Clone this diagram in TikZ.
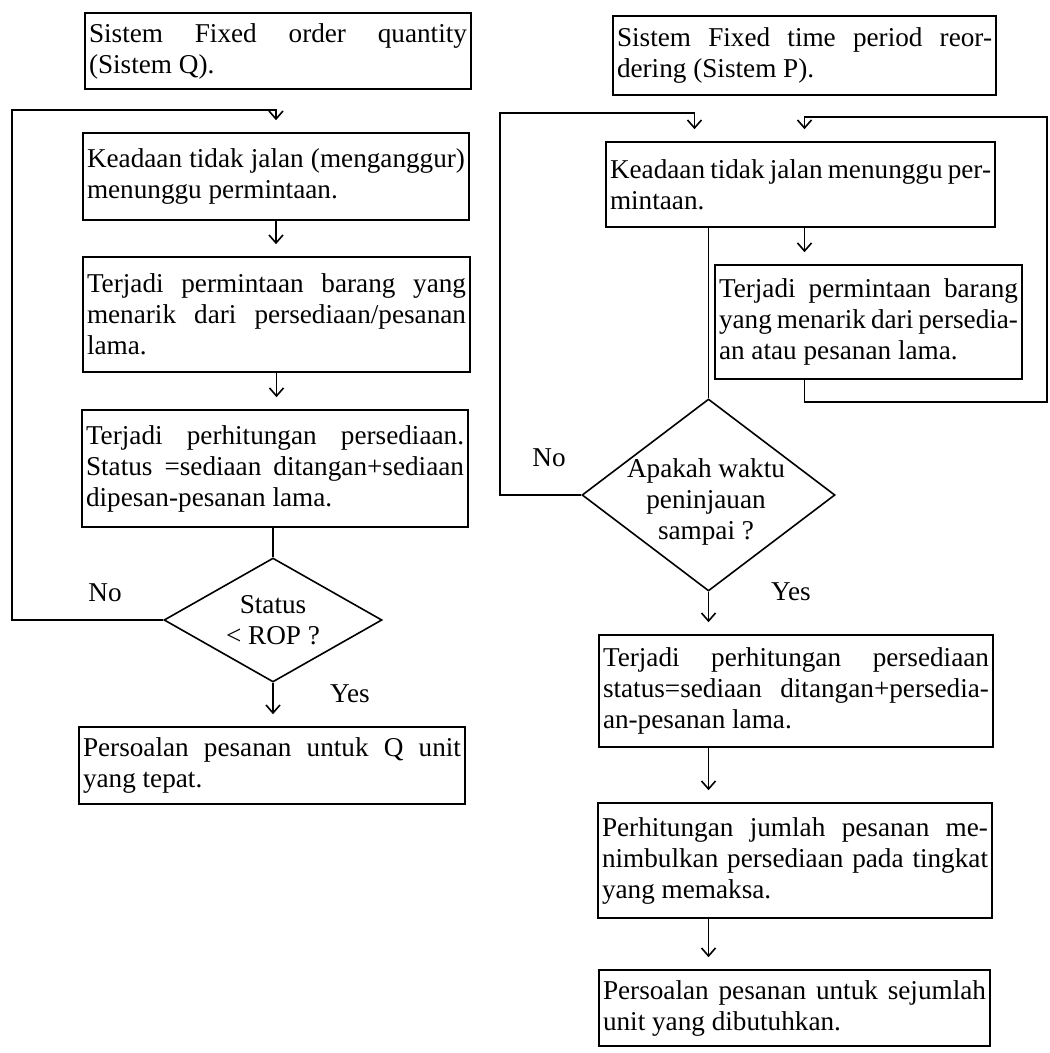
\documentclass[tikz,border=0pt]{standalone}
\usepackage{fontspec}
\setmainfont{Liberation Serif}
\usetikzlibrary{arrows.meta,positioning,calc,shapes.geometric}
\hyphenpenalty=10000
\exhyphenpenalty=10000

\begin{document}
\begin{tikzpicture}[
    x=0.5pt, y=-0.5pt,
    every node/.append style={font=\fontsize{13.6}{15.5}\selectfont},
    kotak/.style={draw, line width=0.8pt, rectangle, align=justify, inner xsep=2pt, inner ysep=0pt},
    belah/.style={draw, line width=0.8pt, diamond, inner sep=0pt, align=center},
    lbl/.style={inner sep=0pt},
    garis/.style={line width=0.8pt},
    panah/.style={garis, -{Straight Barb[length=4pt,width=7pt]}, shorten >=6pt}
]
\useasboundingbox (0,0) rectangle (1049,1053);

% Sistem Q (kiri)
\node[kotak, text width=189pt, minimum height=38pt] (judulQ) at (278,51)
    {Sistem Fixed order quantity\linebreak (Sistem Q).};
\node[kotak, text width=189pt, minimum height=43.5pt] (tunggu1) at (276,176.5)
    {Keadaan tidak jalan (menganggur)\linebreak menunggu permintaan.};
\node[kotak, text width=189.5pt, minimum height=57.5pt] (tarik1) at (276.5,314.5)
    {Terjadi permintaan barang yang\linebreak menarik dari persediaan/pesanan\linebreak lama.};
\node[kotak, text width=189pt, minimum height=58.5pt] (hitung1) at (275,468.5)
    {Terjadi perhitungan persediaan.\linebreak Status =sediaan ditangan+sediaan\linebreak dipesan-pesanan lama.};
\node[belah, minimum width=109pt, minimum height=62pt, aspect=1.76] (rop) at (273,620)
    {Status\\< ROP ?};
\node[kotak, text width=189pt, minimum height=38.5pt] (pesanQ) at (272,765.5)
    {Persoalan pesanan untuk Q unit\linebreak yang tepat.};

% Sistem P (kanan)
\node[kotak, text width=187.5pt, minimum height=39.5pt] (judulP) at (804.5,55.5)
    {Sistem Fixed time period reor-\linebreak dering (Sistem P).};
\node[kotak, text width=190.5pt, minimum height=42.5pt] (tunggu2) at (800.5,184.5)
    {Keadaan tidak jalan menunggu per-\linebreak mintaan.};
\node[kotak, text width=149.5pt, minimum height=57pt] (tarik2) at (868.5,322)
    {Terjadi permintaan barang\linebreak yang menarik dari persedia-\linebreak an atau pesanan lama.};
\node[belah, minimum width=126.5pt, minimum height=96pt] (tinjau) at (708.5,495) {};
\node[lbl, align=center] (tanya) at (706,502) {Apakah waktu\\peninjauan\\sampai ?};
\node[kotak, text width=193pt, minimum height=56pt] (hitung2) at (796,691)
    {Terjadi perhitungan persediaan\linebreak status=sediaan ditangan+persedia-\linebreak an-pesanan lama.};
\node[kotak, text width=193pt, minimum height=57.5pt] (jumlah2) at (795,860.5)
    {Perhitungan jumlah pesanan me-\linebreak nimbulkan persediaan pada tingkat\linebreak yang memaksa.};
\node[kotak, text width=191.5pt, minimum height=38pt] (pesanP) at (794.5,1008)
    {Persoalan pesanan untuk sejumlah\linebreak unit yang dibutuhkan.};

% Label
\node[lbl] (noQ) at (105,593) {No};
\node[lbl] (yesQ) at (350,694) {Yes};
\node[lbl] (noP) at (549,458) {No};
\node[lbl] (yesP) at (791,592) {Yes};

% Titik belok
\coordinate (kiriQ) at (12,110);
\coordinate (kiriP) at (500,113);
\coordinate (kananP) at (1047,117);

% Alur kiri
\draw[panah] (tunggu1.south) -- (tunggu1.south |- tarik1.north);
\draw[panah] (tarik1.south) -- (tarik1.south |- hitung1.north);
\draw[garis] (hitung1.south -| rop.north) -- (rop.north);
\draw[panah] (rop.south) -- (rop.south |- pesanQ.north);
\draw[panah] (rop.west) -| (kiriQ) -| (tunggu1.north);

% Alur kanan
\draw[garis] (tunggu2.south -| tinjau.north) -- (tinjau.north);
\draw[panah] ([xshift=2pt]tunggu2.south) -- ([xshift=2pt]tunggu2.south |- tarik2.north);
\draw[panah] ([xshift=2pt]tunggu2.south |- tarik2.south) -- ++(0,22) -| (kananP) -| ([xshift=2pt]tunggu2.north);
\draw[panah] (tinjau.west) -| (kiriP) -| ([xshift=-53pt]tunggu2.north);
\draw[panah] (tinjau.south) -- (tinjau.south |- hitung2.north);
\draw[panah] (hitung2.south -| tinjau.south) -- (jumlah2.north -| tinjau.south);
\draw[panah] (jumlah2.south -| tinjau.south) -- (pesanP.north -| tinjau.south);
\end{tikzpicture}
\end{document}
